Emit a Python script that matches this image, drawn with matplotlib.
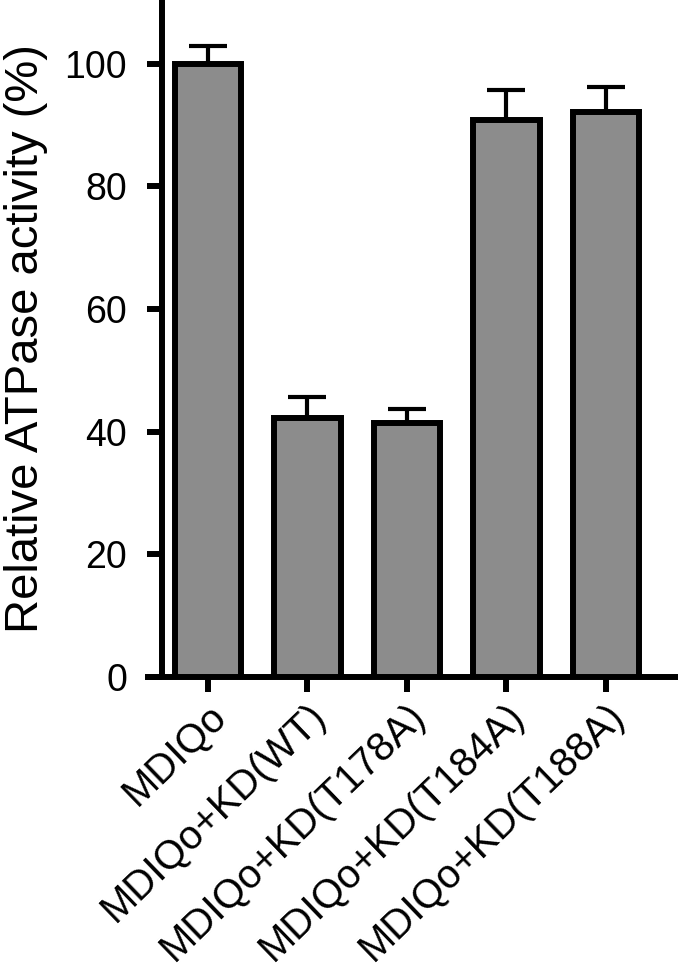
import matplotlib
matplotlib.use("Agg")
import matplotlib.pyplot as plt
from matplotlib.transforms import ScaledTranslation

# bar data (relative ATPase activity, %)
groups = ["MDIQo", "MDIQo+KD(WT)", "MDIQo+KD(T178A)", "MDIQo+KD(T184A)", "MDIQo+KD(T188A)"]
activity = [100.0, 42.3, 41.5, 90.9, 92.1]
errors = [2.9, 3.4, 2.2, 4.8, 4.1]
yticks = [0, 20, 40, 60, 80, 100]

plt.rcParams["font.family"] = ["Liberation Sans", "DejaVu Sans"]

fig = plt.figure(figsize=(6.78, 9.8), dpi=100)
# axes box in figure pixels: x 145..678, y(top-origin) 0..677
ax = fig.add_axes([145 / 678, (980 - 677) / 980, 533 / 678, 677 / 980])

x = list(range(len(groups)))
ax.bar(x, activity, width=0.67, color="#8c8c8c", edgecolor="black",
       linewidth=4.3, zorder=3)
ax.errorbar(x, activity, yerr=[[0] * len(errors), errors], fmt="none",
            ecolor="black", elinewidth=3.0, capsize=13.5, capthick=3.0,
            zorder=2)

ax.set_xlim(-0.633, 4.724)
ax.set_ylim(0, 110.4)

ax.spines["top"].set_visible(False)
ax.spines["right"].set_visible(False)
ax.spines["left"].set_position(("data", -0.463))
for s in ("left", "bottom"):
    ax.spines[s].set_linewidth(4.3)
    ax.spines[s].set_capstyle("butt")

ax.set_yticks(yticks)
ax.set_xticks(x)
ax.set_xticklabels(groups, rotation=44, ha="right", va="center",
                   rotation_mode="anchor", fontsize=29)
ax.tick_params(axis="both", direction="out", length=11, width=4.3,
               labelsize=27, color="black")
ax.tick_params(axis="y", pad=14)
ax.tick_params(axis="x", labelsize=29, pad=13)

# nudge the slanted labels a little to the right, like the original
shift = ScaledTranslation(9 / 72, 0, fig.dpi_scale_trans)
for lab in ax.get_xticklabels():
    lab.set_transform(lab.get_transform() + shift)

ax.set_ylabel("Relative ATPase activity (%)", fontsize=34, labelpad=12)

fig.savefig("out.png", dpi=100)
